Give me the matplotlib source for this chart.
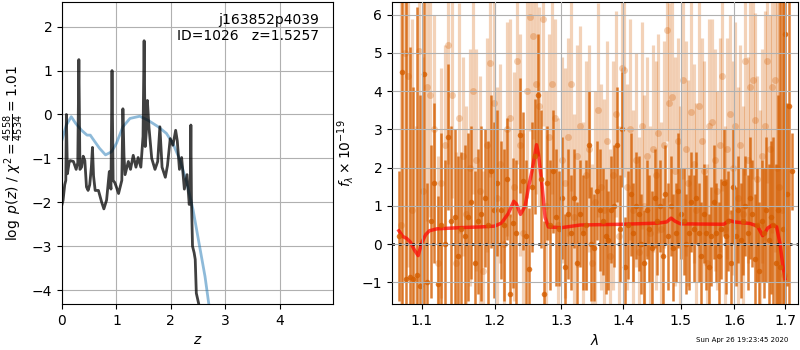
import numpy as np
import matplotlib
matplotlib.use("Agg")
import matplotlib.pyplot as plt
from matplotlib.ticker import ScalarFormatter, NullLocator, FixedLocator

# ---------------- p(z) panel data ----------------
z_pz = [0.00, 0.02, 0.05, 0.07, 0.08, 0.10, 0.13, 0.15, 0.21, 0.26, 0.29, 0.31, 0.33, 0.36,
        0.39, 0.42, 0.45, 0.48, 0.51, 0.54, 0.56, 0.58, 0.61, 0.67, 0.73, 0.77, 0.82, 0.87,
        0.90, 0.92, 0.94, 0.97, 1.00, 1.04, 1.10, 1.12, 1.14, 1.16, 1.22, 1.26, 1.31, 1.36,
        1.40, 1.45, 1.49, 1.51, 1.53, 1.55, 1.57, 1.60, 1.65, 1.71, 1.76, 1.80, 1.84, 1.90,
        1.94, 1.99, 2.04, 2.09, 2.12, 2.16, 2.20, 2.25, 2.30, 2.34, 2.36, 2.37, 2.38, 2.40,
        2.43, 2.45, 2.47, 2.53]
logpz = [-2.05, -1.95, -1.60, -1.50, 0.00, -1.35, -1.10, -1.05, -1.07, -1.25, -1.10, 1.25,
         -1.25, -1.20, -0.95, -1.05, -1.65, -1.73, -1.60, -1.20, -0.75, -1.40, -1.73, -1.73,
         -2.00, -2.15, -1.95, -1.30, -1.70, 1.00, -1.50, -1.55, -1.65, -1.80, -1.50, 0.13,
         -0.95, -1.37, -1.07, -1.25, -0.93, -1.20, -0.98, -1.20, -0.50, 1.68, -0.73, -0.40,
         0.32, -0.30, -1.00, -1.25, -1.07, -0.28, -1.20, -1.43, -1.16, -0.55, -0.70, -0.36,
         -0.60, -1.25, -0.98, -1.70, -1.37, -2.05, -1.60, -0.24, -1.90, -3.00, -3.15, -3.30,
         -4.07, -4.40]
z_prior = [0.00, 0.08, 0.17, 0.25, 0.36, 0.46, 0.52, 0.57, 0.69, 0.80, 0.91, 1.00, 1.12,
           1.25, 1.43, 1.58, 1.77, 1.92, 2.04, 2.17, 2.29, 2.41, 2.53, 2.63, 2.72]
log_prior = [-0.58, -0.24, -0.05, -0.20, -0.36, -0.47, -0.47, -0.56, -0.77, -0.92, -0.85,
             -0.66, -0.28, -0.09, -0.04, -0.13, -0.28, -0.43, -0.66, -1.04, -1.53, -2.17,
             -3.00, -3.69, -4.50]

# ---------------- spectrum panel data ----------------
dark_wave_start, dark_wave_step = 1.0700, 0.00463
dark_flux = [0.2, 4.5, -0.9, -0.85, -0.9, -0.8, -1.1, 4.45, -1.0, 0.6,
             1.6, -1.05, 0.5, 0.0, 2.8, 0.6, 0.7, -0.3, 0.4, 0.2,
             0.7, 1.1, -0.5, 0.6, 0.8, 1.2, 0.5, 1.9, 0.9, 1.6,
             0.9, 0.5, 1.7, -1.3, 0.55, 0.3, 2.85, 1.65, 0.2, -0.65,
             1.5, 2.3, 3.9, 1.7, -1.3, 1.6, 0.5, 1.9, 0.7, 0.4,
             1.2, -0.6, 0.8, 0.3, 1.2, -0.5, 0.8, 0.3, 0.5, 2.6,
             0.0, -0.1, 1.4, 0.9, 0.6, 0.2, 0.1, 0.9, 1.0, 2.6,
             0.4, 3.0, -0.6, 0.5, 1.3, 0.3, 1.0, 0.8, 0.0, -0.5,
             0.9, 0.4, -0.1, 1.2, 0.6, 1.0, -0.3, 1.3, 0.2, 1.0,
             -0.1, 0.3, 1.4, 0.8, 0.6, 0.0, 0.3, 1.1, 0.4, 1.2,
             0.3, -0.3, 0.8, 0.3, -0.6, 0.2, 1.1, 0.3, -0.3, 0.4,
             1.6, 0.2, 0.6, -0.5, 1.5, 0.2, 0.9, 0.1, 0.6, 1.0,
             0.3, 1.2, 0.8, -0.4, 0.5, -0.7, 0.6, 0.3, 0.9, 0.1,
             0.7, 0.5, -0.5, 0.9, -0.6, 0.4, 5.5, 1.3, 3.6, 1.9]
dark_err = [1.7, 8.0, 8.0, 6.0, 5.0, 7.0, 5.0, 8.0, 2.6, 2.0,
            2.1, 2.3, 2.4, 2.2, 1.9, 2.5, 2.3, 2.6, 2.0, 2.4,
            2.2, 2.0, 2.4, 1.9, 2.3, 1.8, 2.2, 2.0, 2.3, 1.9,
            1.8, 2.0, 1.6, 2.1, 1.7, 1.9, 1.5, 1.8, 2.0, 1.6,
            1.7, 1.5, 1.6, 1.8, 1.9, 1.5, 1.7, 1.6, 1.8, 1.5,
            1.6, 1.4, 1.7, 1.5, 1.3, 1.6, 1.4, 1.5, 1.7, 1.4,
            1.5, 1.4, 1.3, 1.6, 1.4, 1.5, 1.3, 1.4, 1.6, 1.5,
            1.4, 1.5, 1.3, 1.4, 1.6, 1.3, 1.4, 1.5, 1.3, 1.4,
            1.3, 1.4, 1.5, 1.3, 1.4, 1.2, 1.5, 1.3, 1.4, 1.3,
            1.4, 1.3, 1.5, 1.2, 1.4, 1.3, 1.5, 1.3, 1.4, 1.2,
            1.3, 1.4, 1.3, 1.5, 1.4, 1.3, 1.5, 1.3, 1.4, 1.3,
            1.4, 1.5, 1.3, 1.4, 1.5, 1.3, 1.4, 1.5, 1.4, 1.3,
            1.5, 1.6, 1.4, 1.7, 1.5, 1.8, 1.6, 1.7, 1.9, 2.0,
            2.0, 2.3, 2.6, 3.0, 8.0, 9.0, 8.0, 2.4, 9.0, 1.0]

light_wave_start, light_wave_step = 1.0725, 0.00485
light_flux = [0.5, 5.0, 4.4, 0.9, -0.9, 5.05, 1.4, 4.1, 3.9, 3.0,
              -0.5, 1.6, 2.6, 5.2, 3.9, -0.5, 3.3, 2.3, 0.8, 2.0,
              4.0, 2.2, 1.4, -0.7, 2.6, 4.75, 3.7, 1.2, 2.1, 0.0,
              3.0, 3.3, 1.5, 4.8, 2.6, 0.3, 4.0, 5.95, 5.45, 4.2,
              3.6, 5.9, 1.0, 2.8, 4.2, 3.3, 0.5, 2.2, 1.6, 2.8,
              4.2, 0.7, 2.3, 3.1, 0.4, 1.8, 2.5, -0.5, 1.1, 3.5,
              1.5, 0.9, 2.7, -0.3, 1.8, 3.4, 0.2, 4.6, 4.55, 1.5,
              3.0, 0.9, 2.2, -0.2, 3.1, 1.0, 2.3, 0.3, 2.5, 1.8,
              2.9, 0.4, 2.6, 5.6, 3.7, 3.85, 1.9, 2.7, 0.7, 4.3,
              2.5, 1.6, 3.45, 2.1, 0.9, 3.6, 2.7, 1.9, -0.5, 3.1,
              3.2, 2.2, 1.4, 2.6, 4.4, 0.4, 2.5, 3.4, 2.0, 3.1,
              1.2, 2.6, 0.8, 4.8, 2.2, 4.1, 4.3, 3.25, 1.7, 0.5,
              2.3, 3.1, 4.8, 2.5, 4.1, 4.3, 2.0, 1.5, 0.9, -0.8]
light_err = [6.0, 6.0, 5.0, 5.0, 4.0, 5.0, 3.5, 3.5, 3.2, 3.0,
             2.8, 3.0, 2.6, 3.1, 2.7, 2.9, 3.0, 2.6, 2.8, 3.1,
             2.7, 2.9, 3.0, 2.6, 2.8, 3.0, 2.7, 2.9, 2.6, 3.0,
             2.8, 2.6, 3.0, 2.7, 2.9, 2.6, 2.8, 3.0, 2.7, 2.9,
             2.6, 2.8, 3.0, 2.7, 2.9, 2.6, 2.8, 2.7, 3.0, 2.6,
             2.8, 2.7, 2.9, 2.6, 2.8, 3.0, 2.7, 2.6, 2.9, 2.8,
             2.7, 2.9, 2.6, 2.8, 3.0, 2.7, 2.9, 2.6, 2.8, 2.7,
             2.9, 2.6, 2.8, 3.0, 2.7, 2.9, 2.6, 2.8, 2.7, 3.0,
             2.6, 2.8, 2.7, 2.9, 2.6, 2.8, 3.0, 2.7, 2.9, 2.6,
             2.8, 2.7, 2.9, 2.6, 2.8, 3.0, 2.7, 2.9, 2.6, 2.8,
             2.7, 2.9, 2.6, 2.8, 3.0, 2.7, 2.9, 2.6, 2.8, 2.7,
             2.9, 2.6, 2.8, 3.0, 2.7, 2.9, 2.6, 2.8, 2.7, 3.0,
             2.8, 3.0, 3.2, 3.5, 3.8, 4.5, 5.0, 6.0, 7.0, 8.0]

model_wave = [1.070, 1.075, 1.080, 1.085, 1.090, 1.095, 1.100, 1.105, 1.110, 1.120, 1.150,
              1.180, 1.200, 1.210, 1.220, 1.228, 1.232, 1.238, 1.245, 1.250, 1.255, 1.262,
              1.265, 1.270, 1.275, 1.280, 1.300, 1.330, 1.400, 1.460, 1.475, 1.483, 1.490,
              1.500, 1.580, 1.590, 1.600, 1.630, 1.645, 1.655, 1.660, 1.665, 1.675, 1.683,
              1.690, 1.695, 1.700]
model_flux = [0.35, 0.20, 0.15, 0.05, -0.15, -0.30, 0.05, 0.25, 0.35, 0.40, 0.43, 0.45,
              0.47, 0.55, 0.80, 1.12, 1.05, 0.78, 1.00, 1.50, 1.90, 2.60, 2.35, 1.60, 0.70,
              0.45, 0.43, 0.50, 0.52, 0.55, 0.58, 0.68, 0.60, 0.53, 0.52, 0.62, 0.58, 0.54,
              0.47, 0.22, 0.30, 0.42, 0.50, 0.45, 0.00, -0.50, -0.90]

xticks_spec = [1.1, 1.2, 1.3, 1.4, 1.5, 1.6, 1.7]

# ---------------- figure ----------------
fig = plt.figure(figsize=(8, 3.5), dpi=100)
ax1 = fig.add_axes([0.0775, 0.131, 0.3385, 0.863])
ax2 = fig.add_axes([0.49, 0.131, 0.5075, 0.863])

ax1.plot(z_prior, log_prior, color='C0', alpha=0.5, lw=2)
ax1.plot(z_pz, logpz, color='k', alpha=0.75, lw=2)
ax1.set_xlim(0, 4.98)
ax1.set_ylim(-4.32, 2.56)
ax1.set_xticks([0, 1, 2, 3, 4])
ax1.set_yticks([-4, -3, -2, -1, 0, 1, 2])
ax1.grid(True)
ax1.set_xlabel('$z$')
ax1.set_ylabel(r'$\log\ p(z)$' + ' / ' + r'$\chi^2=\frac{4558}{4534}=1.01$')
ax1.text(0.95, 0.965, 'j163852p4039\nID=1026   z=1.5257', transform=ax1.transAxes,
         ha='right', va='top', fontsize=10)

col = (0.8353, 0.3686, 0.0)
lw_ = np.array(light_wave_start) + light_wave_step * np.arange(len(light_flux))
dw_ = np.array(dark_wave_start) + dark_wave_step * np.arange(len(dark_flux))
ax2.errorbar(lw_, light_flux, yerr=light_err, color=col, alpha=0.28, marker='o', ms=5,
             linestyle='None', elinewidth=2.3, capsize=0, mec='none')
ax2.errorbar(dw_, dark_flux, yerr=dark_err, color=col, alpha=0.8, marker='o', ms=4,
             linestyle='None', elinewidth=1.8, capsize=0, mec='none')
ax2.plot(model_wave, model_flux, color='r', alpha=0.7, lw=2.5)
ax2.axhline(0, color='k', linestyle=':', lw=1.8)
ax2.set_xscale('log')
ax2.set_xlim(1.0612, 1.7267)
ax2.xaxis.set_major_locator(FixedLocator(xticks_spec))
ax2.xaxis.set_minor_locator(NullLocator())
ax2.xaxis.set_major_formatter(ScalarFormatter())
ax2.set_ylim(-1.57, 6.33)
ax2.set_yticks([-1, 0, 1, 2, 3, 4, 5, 6])
ax2.set_axisbelow(False)
ax2.grid(True)
ax2.set_xlabel(r'$\lambda$')
ax2.set_ylabel(r'$f_\lambda\times10^{-19}$')

fig.text(0.9275, 0.028, 'Sun Apr 26 19:23:45 2020', ha='center', va='center', fontsize=5)

fig.savefig('out.png', dpi=100)
